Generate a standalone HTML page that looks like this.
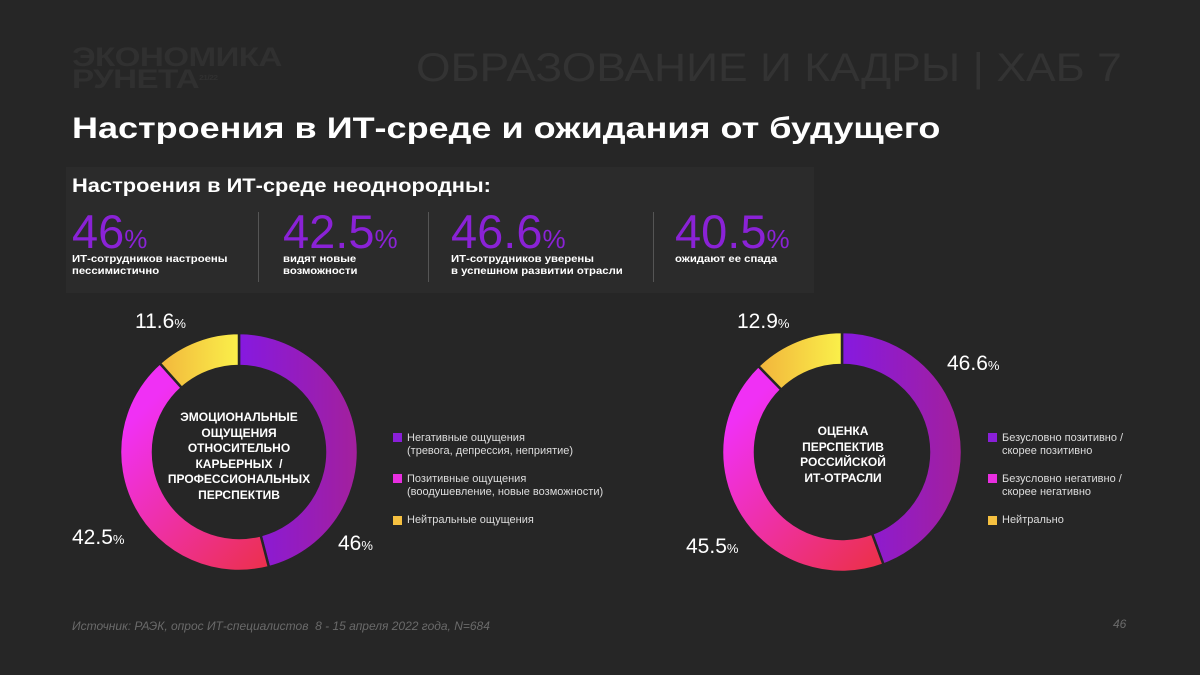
<!DOCTYPE html>
<html><head><meta charset="utf-8"><style>
body{margin:0;width:1200px;height:675px;background:#262626;overflow:hidden;font-family:"Liberation Sans",sans-serif;color:#fff;position:relative}
.a{position:absolute;white-space:nowrap}
.big{color:#8a22d6;font-size:47px;font-weight:300;letter-spacing:0px}
.big span{font-size:26px}
.sub{font-size:10.5px;font-weight:bold;line-height:12px;transform:scaleX(1.08);transform-origin:0 0}
.vl{position:absolute;width:1px;background:#555;top:212px;height:70px}
.lg{font-size:11px;line-height:13px;color:#ddd}
.sq{position:absolute;width:9px;height:9px}
.pl{font-size:21px;font-weight:300}
.pl span{font-size:13px}
</style></head><body>
<div class="a" style="left:72px;top:46px;color:#303030;font-weight:bold;font-size:27px;line-height:22px;letter-spacing:-0.5px;transform:scaleX(1.23);transform-origin:0 0">ЭКОНОМИКА<br>РУНЕТА<span style="font-size:7px;vertical-align:top">21/22</span></div>
<div class="a" style="left:416px;top:46px;color:#333;font-size:40px;font-weight:300;transform:scaleX(1.11);transform-origin:0 0">ОБРАЗОВАНИЕ И КАДРЫ | ХАБ 7</div>
<div class="a" style="left:72px;top:112px;font-size:30px;font-weight:bold;transform:scaleX(1.2);transform-origin:0 0">Настроения в ИТ-среде и ожидания от будущего</div>
<div class="a" style="left:66px;top:167px;width:748px;height:126px;background:#2b2b2b"></div>
<div class="a" style="left:72px;top:176px;font-size:19px;font-weight:bold;transform:scaleX(1.15);transform-origin:0 0">Настроения в ИТ-среде неоднородны:</div>
<div class="a big" style="left:72px;top:204px">46<span>%</span></div>
<div class="a sub" style="left:72px;top:253px">ИТ-сотрудников настроены<br>пессимистично</div>
<div class="vl" style="left:258px"></div>
<div class="a big" style="left:283px;top:204px">42.5<span>%</span></div>
<div class="a sub" style="left:283px;top:253px">видят новые<br>возможности</div>
<div class="vl" style="left:428px"></div>
<div class="a big" style="left:451px;top:204px">46.6<span>%</span></div>
<div class="a sub" style="left:451px;top:253px">ИТ-сотрудников уверены<br>в успешном развитии отрасли</div>
<div class="vl" style="left:653px"></div>
<div class="a big" style="left:675px;top:204px">40.5<span>%</span></div>
<div class="a sub" style="left:675px;top:253px">ожидают ее спада</div>

<svg id="s" class="a" style="left:0;top:0" width="1200" height="675">
<defs></defs>
</svg>

<div class="a" style="left:158px;top:410px;width:162px;text-align:center;font-size:12px;font-weight:bold;line-height:15.5px">ЭМОЦИОНАЛЬНЫЕ<br>ОЩУЩЕНИЯ<br>ОТНОСИТЕЛЬНО<br>КАРЬЕРНЫХ &nbsp;/<br>ПРОФЕССИОНАЛЬНЫХ<br>ПЕРСПЕКТИВ</div>
<div class="a" style="left:762px;top:424px;width:162px;text-align:center;font-size:12px;font-weight:bold;line-height:15.5px">ОЦЕНКА<br>ПЕРСПЕКТИВ<br>РОССИЙСКОЙ<br>ИТ-ОТРАСЛИ</div>

<div class="a pl" style="left:135px;top:310px">11.6<span>%</span></div>
<div class="a pl" style="left:72px;top:526px">42.5<span>%</span></div>
<div class="a pl" style="left:338px;top:532px">46<span>%</span></div>
<div class="a pl" style="left:737px;top:310px">12.9<span>%</span></div>
<div class="a pl" style="left:947px;top:352px">46.6<span>%</span></div>
<div class="a pl" style="left:686px;top:535px">45.5<span>%</span></div>

<div class="sq" style="left:393px;top:433px;background:#8a1fd8"></div>
<div class="a lg" style="left:407px;top:432px">Негативные ощущения<br>(тревога, депрессия, неприятие)</div>
<div class="sq" style="left:393px;top:474px;background:#e82ee0"></div>
<div class="a lg" style="left:407px;top:473px">Позитивные ощущения<br>(воодушевление, новые возможности)</div>
<div class="sq" style="left:393px;top:516px;background:#f5c040"></div>
<div class="a lg" style="left:407px;top:514px">Нейтральные ощущения</div>
<div class="sq" style="left:988px;top:433px;background:#8a1fd8"></div>
<div class="a lg" style="left:1002px;top:432px">Безусловно позитивно /<br>скорее позитивно</div>
<div class="sq" style="left:988px;top:474px;background:#e82ee0"></div>
<div class="a lg" style="left:1002px;top:473px">Безусловно негативно /<br>скорее негативно</div>
<div class="sq" style="left:988px;top:516px;background:#f5c040"></div>
<div class="a lg" style="left:1002px;top:514px">Нейтрально</div>

<div class="a" style="left:72px;top:619px;font-size:12px;font-style:italic;color:#6a6a6a">Источник: РАЭК, опрос ИТ-специалистов &nbsp;8 - 15 апреля 2022 года, N=684</div>
<div class="a" style="left:1113px;top:617px;font-size:12px;font-style:italic;color:#6a6a6a">46</div>
<script>
const chart1Values=[46,42.5,11.6];
const chart2Values=[46.6,45.5,12.9];
const seriesNames=['first','second','third'];
const svg=document.getElementById('s');
const NS='http://www.w3.org/2000/svg';
function donut(vals,cx,cy,R,r,id){
  const tot=vals.reduce((a,b)=>a+b,0);let a0=-Math.PI/2;
  vals.forEach((v,i)=>{
    const a1=a0+v/tot*2*Math.PI;
    const L=(a1-a0)>Math.PI?1:0;
    const p=(rad,a)=>[cx+rad*Math.cos(a),cy+rad*Math.sin(a)];
    const [x0,y0]=p(R,a0),[x1,y1]=p(R,a1),[x2,y2]=p(r,a1),[x3,y3]=p(r,a0);
    const g=document.createElementNS(NS,'linearGradient');
    g.setAttribute('id',id+'g'+i);g.setAttribute('gradientUnits','userSpaceOnUse');
    const gx=[[cx,cx+R,0,0],[cx+20,cx-R,cy+R,cy-20],[cx-R,cx,0,0]][i];
    g.setAttribute('x1',gx[0]);g.setAttribute('x2',gx[1]);g.setAttribute('y1',gx[2]||0);g.setAttribute('y2',gx[3]||0);
    const cols=[['#8619e0','#a3209c'],['#ec3050','#f030f5'],['#ee9a35','#faf04a']][i];
    cols.forEach((c,k)=>{const s=document.createElementNS(NS,'stop');s.setAttribute('offset',k);s.setAttribute('stop-color',c);g.appendChild(s);});
    svg.querySelector('defs').appendChild(g);
    const path=document.createElementNS(NS,'path');
    
    
    path.setAttribute('d',`M${x0},${y0}A${R},${R} 0 ${L} 1 ${x1},${y1}L${x2},${y2}A${r},${r} 0 ${L} 0 ${x3},${y3}Z`);
    path.setAttribute('fill','url(#'+id+'g'+i+')');
    path.setAttribute('stroke','#262626');path.setAttribute('stroke-width','2.5');
    svg.appendChild(path);
    a0=a1;
  });
}
donut(chart1Values,239,452,119,86,'donut1');
donut(chart2Values,842,452,120,87,'donut2');
</script>
</body></html>
